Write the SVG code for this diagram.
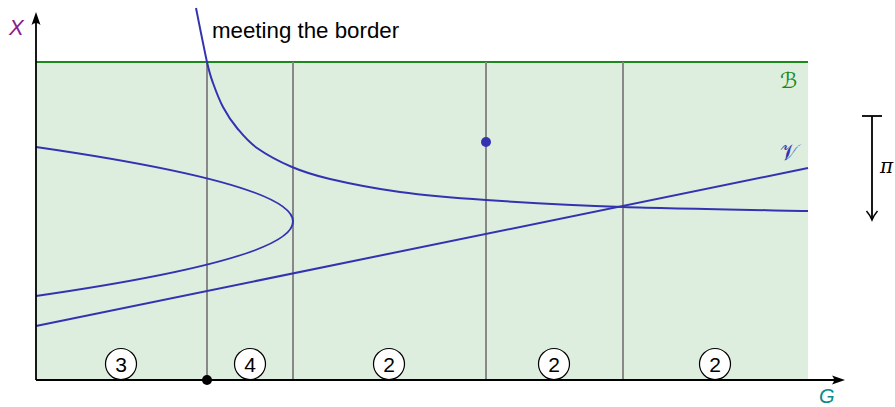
<svg xmlns="http://www.w3.org/2000/svg" width="895" height="407" viewBox="0 0 895 407">
<style>
.grid{stroke:#888;stroke-width:2;fill:none}
.curve{stroke:#3333b2;stroke-width:2;fill:none}
.axis{stroke:#000;stroke-width:1.8;fill:none}
.num circle{fill:#fff;stroke:#000;stroke-width:1.2}
.num text{font-family:"Liberation Sans",Arial,sans-serif;font-size:21px;text-anchor:middle;fill:#000}
.lbl{font-family:"Liberation Sans",Arial,sans-serif}
.cal{font-family:"DejaVu Sans",sans-serif;font-size:22px}
</style>
<g id="region">
<rect x="36" y="62" width="772" height="318" fill="#deeede"/>
<line x1="36" y1="62" x2="808" y2="62" stroke="#1a8a1a" stroke-width="2.2"/>
</g>
<g id="grid">
<line class="grid" x1="207" y1="62" x2="207" y2="380"/>
<line class="grid" x1="293" y1="62" x2="293" y2="380"/>
<line class="grid" x1="486" y1="62" x2="486" y2="380"/>
<line class="grid" x1="623" y1="62" x2="623" y2="380"/>
</g>
<g id="curves">
<path class="curve" d="M196,8 C197.8,17 204.2,49.5 207,62 C209.8,74.5 210.3,75.5 213,83 C215.7,90.5 219,99.5 223,107 C227,114.5 231.3,121.2 237,128 C242.7,134.8 247.8,141.5 257,148 C266.2,154.5 279.8,161.8 292,167 C304.2,172.2 312,174.8 330,179 C348,183.2 374,188.5 400,192 C426,195.5 448.8,197.5 486,200 C523.2,202.5 569.3,205.2 623,207 C676.7,208.8 777.2,210.3 808,211"/>
<path class="curve" d="M36,147 Q550,221.5 36,296"/>
<line class="curve" x1="36" y1="326" x2="808" y2="168"/>
<circle cx="486" cy="142" r="5" fill="#3333b2"/>
</g>
<g id="axes">
<line class="axis" x1="36" y1="380" x2="840" y2="380"/>
<path d="M845,380 L832,375.5 Q836,380 832,384.5 Z" fill="#000"/>
<line class="axis" x1="36" y1="380" x2="36" y2="17"/>
<path d="M36,12 L31.5,25 Q36,21 40.5,25 Z" fill="#000"/>
<circle cx="207" cy="380" r="5" fill="#000"/>
<text class="lbl" x="9" y="35" font-size="22" font-style="italic" fill="#8b1a8b">X</text>
<text class="lbl" x="819" y="403" font-size="20" font-style="italic" fill="#0a8a8a">G</text>
</g>
<g id="labels">
<text class="lbl" x="212" y="38" font-size="22.3" fill="#000">meeting the border</text>
<text class="cal" x="780" y="88" fill="#1a8a1a">ℬ</text>
<text class="cal" x="780" y="160" fill="#3333b2">𝒱</text>
</g>
<g id="num3" class="num"><circle cx="121" cy="364" r="15.5"/><text x="121" y="372">3</text></g>
<g id="num4" class="num"><circle cx="250" cy="364" r="15.5"/><text x="250" y="372">4</text></g>
<g id="num2a" class="num"><circle cx="389" cy="364" r="15.5"/><text x="389" y="372">2</text></g>
<g id="num2b" class="num"><circle cx="554" cy="364" r="15.5"/><text x="554" y="372">2</text></g>
<g id="num2c" class="num"><circle cx="715" cy="364" r="15.5"/><text x="715" y="372">2</text></g>
<g id="pi">
<line x1="862" y1="116" x2="882" y2="116" stroke="#000" stroke-width="1.8"/>
<line x1="872" y1="116" x2="872" y2="219" stroke="#000" stroke-width="1.8"/>
<path d="M866.5,211 Q870,215 872,220 Q874,215 877.5,211" fill="none" stroke="#000" stroke-width="1.5"/>
<text x="880" y="173" font-family="'DejaVu Serif',serif" font-style="italic" font-size="20" fill="#000">π</text>
</g>
</svg>
